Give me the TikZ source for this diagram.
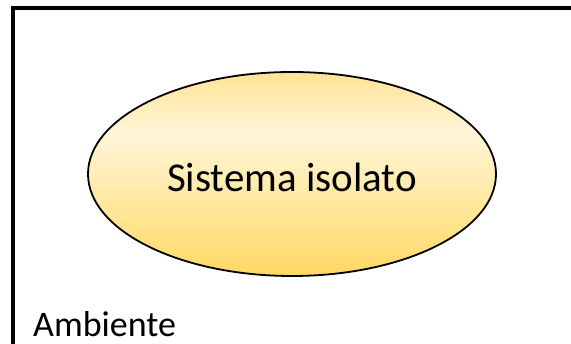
\documentclass[tikz,border=0pt]{standalone}
\usepackage{fontspec}
\setmainfont{Carlito}
\usetikzlibrary{shapes.geometric}
\definecolor{sysTop}{RGB}{255,226,148}
\definecolor{sysLight}{RGB}{255,246,216}
\definecolor{sysBot}{RGB}{255,216,100}
\pgfdeclareverticalshading{sysfill}{100bp}{color(0bp)=(sysBot); color(25bp)=(sysBot); color(60bp)=(sysLight); color(75bp)=(sysTop); color(100bp)=(sysTop)}
\begin{document}
\begin{tikzpicture}[x=1pt,y=1pt]
    \useasboundingbox (0,0) rectangle (571,344);
    % frame of the surroundings
    \coordinate (F1) at (12.5,-10);
    \coordinate (F2) at (12.5,336.3);
    \coordinate (F3) at (585,336.3);
    \draw[line width=4pt] (F1) -- (F2) -- (F3);
    % the system
    \node[ellipse, draw, line width=1.8pt, shading=sysfill,
          minimum width=408pt, minimum height=204pt, inner sep=0pt,
          text height=35pt, text depth=0pt,
          font=\fontsize{41}{49}\selectfont] (sys) at (292,170) {Sistema isolato};
    \node[anchor=base west, inner sep=0pt,
          font=\fontsize{36}{43}\selectfont] (amb) at (33,7.5) {Ambiente};
  \end{tikzpicture}
\end{document}
